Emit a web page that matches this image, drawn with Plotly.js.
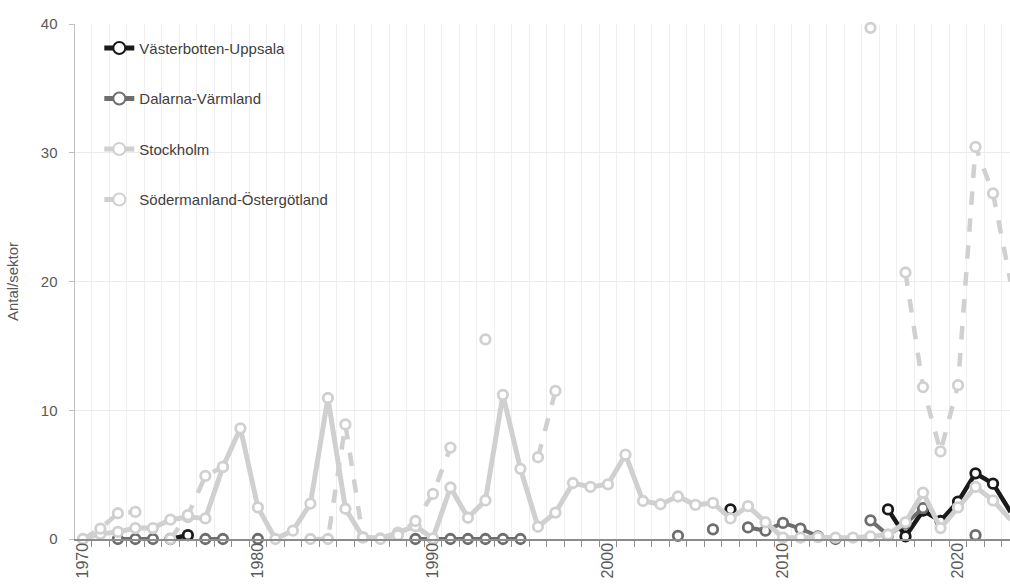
<!DOCTYPE html>
<html>
<head>
<meta charset="utf-8">
<script src="https://cdn.plot.ly/plotly-3.0.1.min.js"></script>
<style>html,body{margin:0;padding:0;background:#fff;}#chart{width:1010px;height:587px;}</style>
</head>
<body>
<div id="chart"></div>
<script>
// Years 1970..2023
var years = [];
for (var y = 1970; y <= 2023; y++) years.push(y);

var seriesNames = ["Västerbotten-Uppsala", "Dalarna-Värmland", "Stockholm", "Södermanland-Östergötland"];

var vasterbotten = [
  null, null, null, null, null, 0, 0.3, null, null, null,          // 1970-1979
  null, null, null, null, null, null, null, null, null, null,      // 1980-1989
  null, null, null, null, null, null, null, null, null, null,      // 1990-1999
  null, null, null, null, null, null, null, 2.3, null, null,       // 2000-2009
  null, null, null, null, null, null, 2.3, 0.2, 2.2, 1.4,          // 2010-2019
  2.9, 5.1, 4.3, 2.1                                               // 2020-2023
];

var dalarna = [
  null, null, 0, 0, 0, null, null, 0, 0, null,                     // 1970-1979
  0, null, null, null, null, null, null, null, null, 0,            // 1980-1989
  0, 0, 0, 0, 0, 0, null, null, null, null,                        // 1990-1999
  null, null, null, null, 0.25, null, 0.75, null, 0.9, 0.65,       // 2000-2009
  1.25, 0.8, 0.2, 0, null, 1.45, 0.3, 1.2, 2.4, null,              // 2010-2019
  null, 0.3, null, null                                            // 2020-2023
];

var stockholm = [
  0, 0.4, 0.55, 0.85, 0.85, 1.5, 1.7, 1.6, 5.6, 8.6,               // 1970-1979
  2.45, 0, 0.65, 2.75, 10.95, 2.35, 0.15, 0.05, 0.5, 1.0,          // 1980-1989
  0.05, 4.0, 1.65, 3.0, 11.2, 5.45, 0.95, 2.05, 4.35, 4.05,        // 1990-1999
  4.25, 6.55, 2.95, 2.7, 3.3, 2.65, 2.8, 1.6, 2.55, 1.3,           // 2000-2009
  0.1, 0.1, 0.15, 0.1, 0.1, 0.2, 0.35, 1.3, 3.6, 0.85,             // 2010-2019
  2.45, 4.05, 3.0, 1.5                                             // 2020-2023
];

var sodermanland = [
  0, 0.8, 2.0, 2.1, null, 0, 1.85, 4.9, 5.6, null,                 // 1970-1979
  null, null, null, 0, 0, 8.9, 0.1, 0, 0.3, 1.4,                   // 1980-1989
  3.5, 7.1, null, 15.5, null, null, 6.35, 11.5, null, null,        // 1990-1999
  null, null, null, null, null, null, null, null, null, null,      // 2000-2009
  null, null, null, null, null, 39.7, null, 20.7, 11.8, 6.8,       // 2010-2019
  11.95, 30.45, 26.85, 20.0                                        // 2020-2023
];

var tickYears = [1970, 1980, 1990, 2000, 2010, 2020];
var tickLabels = ["1970", "1980", "1990", "2000", "2010", "2020"];
var yTicks = [0, 10, 20, 30, 40];

var colors = ["#1a1a1a", "#6e6e6e", "#d0d0d0", "#d0d0d0"];
var dashes = ["solid", "solid", "solid", "dash"];
var widths = [4.5, 4, 5, 4.5];
var dataSets = [vasterbotten, dalarna, stockholm, sodermanland];

var traces = dataSets.map(function (vals, i) {
  return {
    type: "scatter",
    mode: "lines+markers",
    name: seriesNames[i],
    legendgroup: "g" + i,
    x: years,
    y: vals,
    connectgaps: false,
    cliponaxis: false,
    line: {color: colors[i], width: widths[i], dash: dashes[i]},
    marker: {symbol: "circle", size: 9.5, color: "#ffffff", line: {color: colors[i], width: 2.8}}
  };
});

var layout = {
  width: 1010,
  height: 587,
  margin: {l: 75, r: 0, t: 24, b: 48, pad: 0},
  paper_bgcolor: "#ffffff",
  plot_bgcolor: "#ffffff",
  font: {family: "Liberation Sans, Arial, sans-serif", size: 15, color: "#595959"},
  showlegend: true,
  legend: {
    x: 0.026, y: 0.985, xanchor: "left", yanchor: "top",
    bgcolor: "rgba(0,0,0,0)",
    traceorder: "grouped",
    tracegroupgap: 28,
    font: {size: 15, color: "#404040"},
    itemsizing: "constant"
  },
  xaxis: {
    range: [1969.55, 2022.97],
    tickmode: "array",
    tickvals: tickYears,
    ticktext: tickLabels,
    tickangle: -90,
    ticks: "",
    ticklabelstandoff: -4,
    showgrid: false,
    zeroline: false,
    showline: true,
    linecolor: "#8c8c8c",
    linewidth: 1.5,
    tickfont: {size: 16, color: "#595959"},
    minor: {
      tickmode: "linear",
      tick0: 1969.5,
      dtick: 1,
      showgrid: true,
      gridcolor: "#efefef",
      gridwidth: 1,
      ticks: "outside",
      ticklen: 6,
      tickcolor: "#8c8c8c",
      tickwidth: 1
    }
  },
  yaxis: {
    range: [0, 40],
    tickmode: "array",
    tickvals: yTicks,
    ticks: "outside",
    ticklen: 5,
    tickcolor: "#bfbfbf",
    ticklabelstandoff: 8,
    showgrid: true,
    gridcolor: "#ebebeb",
    zeroline: false,
    showline: true,
    linecolor: "#bfbfbf",
    linewidth: 1.5,
    tickfont: {size: 15, color: "#595959"},
    title: {text: "Antal/sektor", font: {size: 15, color: "#595959"}, standoff: 18}
  }
};

Plotly.newPlot("chart", traces, layout, {displayModeBar: false, staticPlot: true});
</script>
</body>
</html>
